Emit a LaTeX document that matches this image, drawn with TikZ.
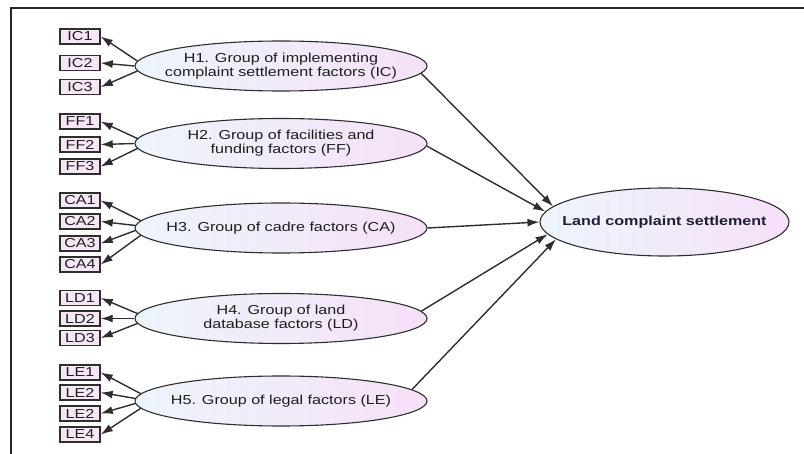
\documentclass[tikz,border=0pt]{standalone}
\usepackage{fontspec}
\setmainfont[FakeStretch=1.24]{Liberation Sans}
\usetikzlibrary{shapes.geometric,arrows.meta}
\definecolor{lineC}{HTML}{2E2E2E}
\definecolor{ellL}{HTML}{EDF5FB}
\definecolor{ellR}{HTML}{F6E0F8}
\definecolor{boxF}{HTML}{F6E6F6}
\definecolor{txtC}{HTML}{1E1E1E}
\definecolor{lcsT}{HTML}{1E1E38}
\begin{document}
\begin{tikzpicture}[x=1pt,y=-1pt,
 latent/.style={ellipse, draw=lineC, line width=1.1pt, left color=ellL, right color=ellR,
   minimum width=292pt, minimum height=50pt, inner sep=0pt},
 ltext/.style={align=center, inner sep=0pt, font=\fontsize{13}{14}\selectfont, text=txtC},
 ind/.style={rectangle, draw=lineC, line width=1.4pt, fill=boxF, minimum width=40pt,
   minimum height=15pt, inner sep=0pt, font=\fontsize{13}{13}\selectfont, text=txtC},
 arr/.style={draw=lineC, line width=1.4pt, -{Latex[length=12pt,width=8pt]}},
 frameline/.style={draw=black!85, line width=2.2pt},
]
\useasboundingbox (0,0) rectangle (804,454);
\draw[frameline] (11,454) -- (11,8) -- (804,8);

% latent constructs
\node[latent] (H1) at (281,66) {};
\node[latent] (H2) at (281,143.5) {};
\node[latent] (H3) at (281,228) {};
\node[latent] (H4) at (281,318.5) {};
\node[latent] (H5) at (281,401) {};
\node[latent, minimum width=249pt, minimum height=68pt] (LCS) at (664.5,222) {};
\node[ltext] (H1t) at (H1) {H1. Group of implementing\\complaint settlement factors (IC)};
\node[ltext] (H2t) at (H2) {H2. Group of facilities and\\funding factors (FF)};
\node[ltext] (H3t) at (H3) {H3. Group of cadre factors (CA)};
\node[ltext] (H4t) at (H4) {H4. Group of land\\database factors (LD)};
\node[ltext] (H5t) at (H5) {H5. Group of legal factors (LE)};
\node[ltext, font=\bfseries\fontsize{13}{14}\selectfont, text=lcsT] (LCSt) at (LCS) {Land complaint settlement};

% indicators
\node[ind] (IC1) at (80,36.5) {IC1};
\node[ind] (IC2) at (80,63) {IC2};
\node[ind] (IC3) at (80,87) {IC3};
\node[ind] (FF1) at (80,121.5) {FF1};
\node[ind] (FF2) at (80,144.5) {FF2};
\node[ind] (FF3) at (80,166.5) {FF3};
\node[ind] (CA1) at (80,200.5) {CA1};
\node[ind] (CA2) at (80,221.5) {CA2};
\node[ind] (CA3) at (80,243.5) {CA3};
\node[ind] (CA4) at (80,264.5) {CA4};
\node[ind] (LD1) at (80,298) {LD1};
\node[ind] (LD2) at (80,318.5) {LD2};
\node[ind] (LD3) at (80,338) {LD3};
\node[ind] (LE1) at (80,372.5) {LE1};
\node[ind] (LE2a) at (80,392.5) {LE2};
\node[ind] (LE2b) at (80,413.5) {LE2};
\node[ind] (LE4) at (80,434.5) {LE4};

% loadings
\draw[arr] (H1.178) -- (IC1.east);
\draw[arr] (H1.180) -- (IC2.east);
\draw[arr] (H1.182) -- (IC3.east);
\draw[arr] (H2.178) -- (FF1.east);
\draw[arr] (H2.180) -- (FF2.east);
\draw[arr] (H2.182) -- (FF3.east);
\draw[arr] (H3.177) -- (CA1.east);
\draw[arr] (H3.179) -- (CA2.east);
\draw[arr] (H3.181) -- (CA3.east);
\draw[arr] (H3.183) -- (CA4.east);
\draw[arr] (H4.178) -- (LD1.east);
\draw[arr] (H4.180) -- (LD2.east);
\draw[arr] (H4.182) -- (LD3.east);
\draw[arr] (H5.177) -- (LE1.east);
\draw[arr] (H5.179) -- (LE2a.east);
\draw[arr] (H5.181) -- (LE2b.east);
\draw[arr] (H5.183) -- (LE4.east);

% structural paths
\draw[arr] (H1.-3.8) -- (LCS.172.2);
\draw[arr] (H2.-1.8) -- (LCS.175.1);
\draw[arr] (H3.east) -- (LCS.180);
\draw[arr] (H4.3.4) -- (LCS.186.8);
\draw[arr] (H5.5) -- (LCS.189.5);
\end{tikzpicture}
\end{document}
